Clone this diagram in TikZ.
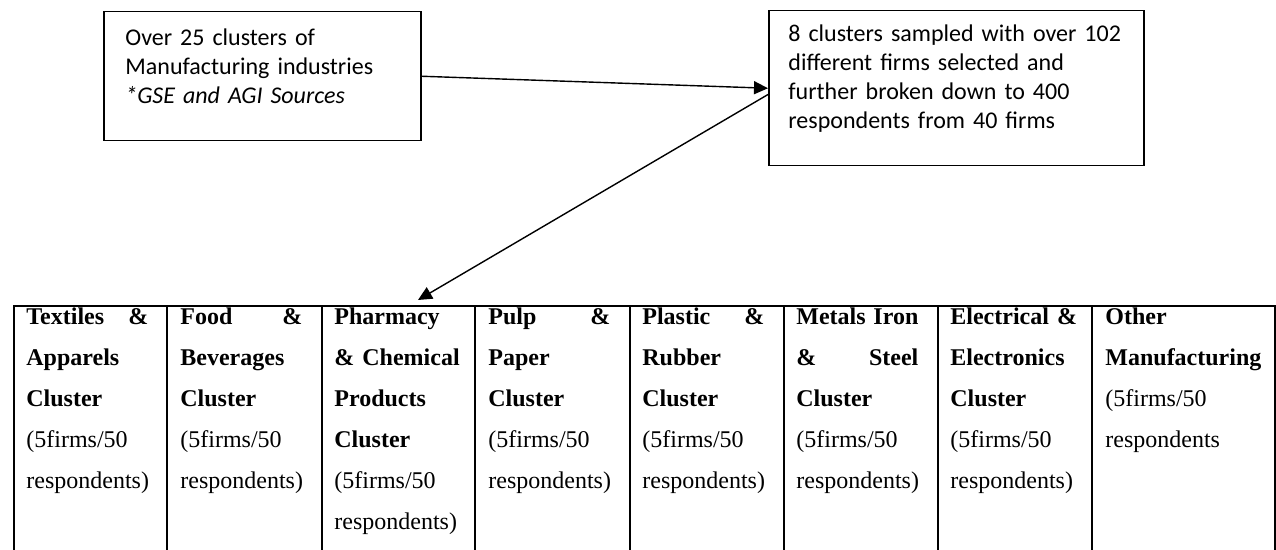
\documentclass[tikz,border=0pt]{standalone}
\usepackage{fontspec}
\setmainfont{Liberation Serif}
\newfontfamily\calibrifont{Carlito}
\usetikzlibrary{arrows.meta,calc}
\hyphenpenalty=10000
\exhyphenpenalty=10000
\begin{document}
\begin{tikzpicture}[x=0.5pt,y=-0.5pt,
  box/.style={draw, line width=0.75pt, inner sep=0pt, anchor=north west},
  cell/.style={draw, line width=0.8pt, inner sep=0pt, anchor=north west, minimum height=150pt},
  celltext/.style={anchor=base west, inner sep=0pt, align=left, font=\fontsize{12}{20.5}\selectfont},
  boxtext/.style={anchor=base west, inner sep=0pt, align=left, font=\calibrifont\fontsize{12}{14.5}\selectfont},
  arr/.style={-{Triangle[length=7pt,width=6.5pt]}, line width=0.7pt}]
\useasboundingbox (0,0) rectangle (1276,550);
\clip (0,0) rectangle (1276,550);
% top boxes
\node[box, minimum width=158.5pt, minimum height=64.5pt] (b1) at (103,11) {};
\node[boxtext, text width=145pt] (t1) at (125,46) {Over 25 clusters of\\Manufacturing industries\\\textit{*GSE and AGI Sources}};
\node[box, minimum width=187.5pt, minimum height=77.5pt] (b2) at (768,10) {};
\node[boxtext, text width=170pt] (t2) at (788,42) {8 clusters sampled with over 102\\different firms selected and\\further broken down to 400\\respondents from 40 firms};
% table cells
\node[cell, minimum width=76.5pt] (c1) at (13,305) {};
\node[cell, minimum width=77.5pt] (c2) at (166,305) {};
\node[cell, minimum width=76.5pt] (c3) at (321,305) {};
\node[cell, minimum width=77.5pt] (c4) at (474,305) {};
\node[cell, minimum width=77pt] (c5) at (629,305) {};
\node[cell, minimum width=77pt] (c6) at (783,305) {};
\node[cell, minimum width=77pt] (c7) at (937,305) {};
\node[cell, minimum width=91.5pt] (c8) at (1091,305) {};
% cell texts
\node[celltext, text width=61pt] (x1) at (26,325) {\textbf{Textiles\hfill\&}\\\textbf{Apparels}\\\textbf{Cluster}\\(5firms/50\\respondents)};
\node[celltext, text width=61pt] (x2) at (180,325) {\textbf{Food\hfill\&}\\\textbf{Beverages}\\\textbf{Cluster}\\(5firms/50\\respondents)};
\node[celltext, text width=64pt] (x3) at (334,325) {\textbf{Pharmacy}\\\mbox{\textbf{\& Chemical}}\\\textbf{Products}\\\textbf{Cluster}\\(5firms/50\\respondents)};
\node[celltext, text width=61pt] (x4) at (488,325) {\textbf{Pulp\hfill\&}\\\textbf{Paper}\\\textbf{Cluster}\\(5firms/50\\respondents)};
\node[celltext, text width=61pt] (x5) at (642,325) {\textbf{Plastic\hfill\&}\\\textbf{Rubber}\\\textbf{Cluster}\\(5firms/50\\respondents)};
\node[celltext, text width=61pt] (x6) at (796,325) {\textbf{Metals\hfill Iron}\\\textbf{\&\hfill Steel}\\\textbf{Cluster}\\(5firms/50\\respondents)};
\node[celltext, text width=64pt] (x7) at (950,325) {\mbox{\textbf{Electrical \&}}\\\textbf{Electronics}\\\textbf{Cluster}\\(5firms/50\\respondents)};
\node[celltext, text width=80pt] (x8) at (1105,325) {\textbf{Other}\\\textbf{Manufacturing}\\(5firms/50\\respondents};
% arrows
\coordinate (tip) at (418,300);
\draw[arr] ($(b1.north east)!0.5!(b1.south east)$) -- (b2.west);
\draw[arr] ($(b2.north west)!0.54!(b2.south west)$) -- (tip);
\end{tikzpicture}
\end{document}
